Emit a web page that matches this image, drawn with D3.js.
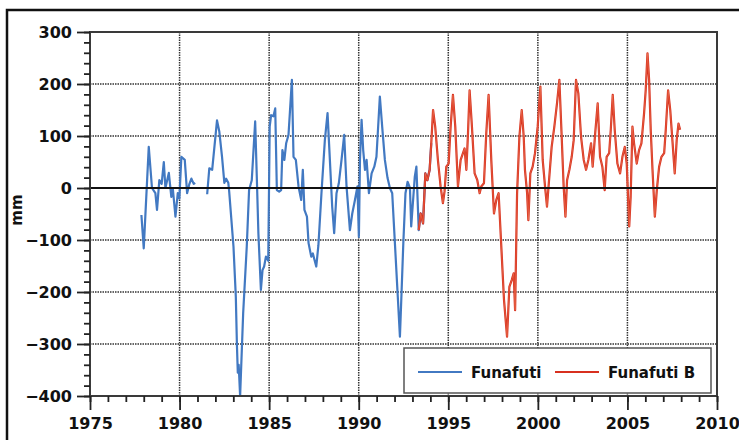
<!DOCTYPE html>
<html><head><meta charset="utf-8">
<script src="https://cdn.jsdelivr.net/npm/d3@7/dist/d3.min.js"></script>
<style>body{margin:0;background:#fff}svg{display:block}text{font-family:"DejaVu Sans",sans-serif;font-weight:bold}</style>
</head><body><svg id="c" width="739" height="440"></svg>
<script>
// Funafuti (blue) — null marks a data gap
const blueYears = [1977.87,1978.00,1978.28,1978.46,1978.65,1978.74,1978.87,1979.00,1979.12,1979.21,1979.40,1979.54,1979.62,1979.77,1979.90,1979.99,1980.10,1980.29,1980.42,1980.55,1980.66,1980.79,1980.87,
 1981.20,
 1981.54,1981.66,1981.82,1982.09,1982.22,1982.37,1982.50,1982.60,1982.72,1982.77,1983.01,1983.14,1983.20,1983.25,1983.30,1983.38,1983.55,1983.75,1983.88,1984.03,1984.22,1984.31,1984.40,1984.54,1984.63,1984.72,1984.82,1984.95,1985.03,1985.11,1985.24,1985.34,1985.43,1985.56,1985.67,1985.74,1985.85,1985.95,1986.08,1986.27,1986.36,1986.49,1986.64,1986.79,1986.88,1986.97,1987.11,1987.20,1987.35,1987.44,1987.53,1987.63,1987.75,1987.92,1988.11,1988.26,1988.39,1988.52,1988.63,1988.76,1988.89,1989.04,1989.19,1989.32,1989.51,1989.64,1989.79,1989.93,1990.01,1990.07,1990.16,1990.25,1990.35,1990.44,1990.57,1990.72,1990.87,1990.99,1991.18,1991.31,1991.46,1991.61,1991.74,1991.87,1992.02,1992.17,1992.30,1992.39,1992.49,1992.61,1992.73,1992.86,1992.93,1993.13,1993.22,1993.35,1993.46,1993.59,1993.72,1993.83,1993.96,1994.05];
const blueValues = [-52,-116,79,0,-10,-42,15,8,50,0,29,-17,0,-55,-10,-20,60,54,-10,8,18,8,10,
 null,
 -12,38,35,130,108,60,10,18,10,-7,-113,-209,-300,-355,-340,-400,-241,-113,-4,15,128,22,-87,-196,-158,-151,-132,-140,118,140,138,153,-4,-7,-4,73,54,86,102,208,60,54,3,-23,35,-42,-55,-106,-132,-126,-138,-151,-110,-10,92,144,54,-36,-87,-10,9,54,102,3,-81,-49,-23,3,-94,54,131,73,35,54,-10,28,41,60,176,118,54,19,0,-10,-106,-202,-286,-202,-106,-10,12,0,-74,22,41,-81,-49,-68,28,15,35,86];

// Funafuti B (red)
const redYears = [1993.35,1993.46,1993.59,1993.72,1993.83,1993.96,1994.05,1994.15,1994.27,1994.42,1994.57,1994.70,1994.79,1994.89,1995.02,1995.13,1995.26,1995.39,1995.54,1995.69,1995.82,1995.91,1996.01,1996.10,1996.19,1996.32,1996.47,1996.62,1996.75,1996.84,1996.99,1997.12,1997.25,1997.40,1997.55,1997.68,1997.81,1997.96,1998.11,1998.28,1998.41,1998.54,1998.65,1998.73,1998.84,1998.97,1999.10,1999.21,1999.28,1999.40,1999.47,1999.58,1999.71,1999.84,1999.99,2000.14,2000.27,2000.40,2000.51,2000.64,2000.77,2000.92,2001.07,2001.20,2001.33,2001.44,2001.54,2001.63,2001.76,2001.89,2002.00,2002.13,2002.26,2002.41,2002.56,2002.69,2002.82,2002.97,2003.06,2003.20,2003.34,2003.47,2003.60,2003.73,2003.84,2003.98,2004.07,2004.18,2004.29,2004.44,2004.59,2004.72,2004.85,2004.96,2005.10,2005.18,2005.28,2005.37,2005.52,2005.65,2005.78,2005.93,2006.02,2006.12,2006.21,2006.30,2006.40,2006.53,2006.64,2006.77,2006.90,2007.05,2007.14,2007.27,2007.39,2007.51,2007.64,2007.75,2007.85,2007.94];
const redValues = [-81,-49,-68,28,15,35,86,150,118,54,3,-29,-7,41,47,118,179,118,3,54,67,76,35,105,188,118,28,15,-10,3,9,105,179,54,-49,-23,-10,-113,-215,-286,-190,-177,-164,-235,-10,99,150,99,35,-10,-62,28,41,67,118,195,54,3,-36,22,79,118,163,208,99,3,-55,15,35,60,92,208,182,99,54,35,54,86,41,105,163,60,41,-4,60,67,112,179,112,47,28,60,79,47,-74,-17,118,86,47,73,86,144,188,259,208,112,35,-55,-4,41,60,67,112,188,150,92,28,92,124,112];

const xTicks = [1975,1980,1985,1990,1995,2000,2005,2010];
const yTicks = [300,200,100,0,-100,-200,-300,-400];
const seriesNames = ["Funafuti","Funafuti B"];
const seriesColors = ["#4279c2","#d8301f"];

const svg = d3.select("#c");
const L=90,R=717,T=32,B=396;
const x = d3.scaleLinear().domain([1975,2010]).range([L,R]);
const y = d3.scaleLinear().domain([-400,300]).range([B,T]);

// outer frame
svg.append("rect").attr("x",7).attr("y",10).attr("width",760).attr("height",480)
  .attr("fill","none").attr("stroke","#111").attr("stroke-width",2.5);

// grid
const g = svg.append("g");
g.selectAll(".vg").data(xTicks.slice(1,-1)).join("line")
  .attr("x1",d=>x(d)).attr("x2",d=>x(d)).attr("y1",T).attr("y2",B)
  .attr("stroke","#333").attr("stroke-width",1.5).attr("stroke-dasharray","1.5,1");
g.selectAll(".hg").data(yTicks.filter(d=>d!==0&&d!==300&&d!==-400)).join("line")
  .attr("x1",L).attr("x2",R).attr("y1",d=>y(d)).attr("y2",d=>y(d))
  .attr("stroke","#333").attr("stroke-width",1.5).attr("stroke-dasharray","1.5,1");

// clip
svg.append("clipPath").attr("id","pc").append("rect").attr("x",L).attr("y",T).attr("width",R-L).attr("height",B-T);

const line = d3.line().defined(d=>d[1]!==null).x(d=>x(d[0])).y(d=>y(d[1]));
const blue = blueYears.map((v,i)=>[v,blueValues[i]]);
const red = redYears.map((v,i)=>[v,redValues[i]]);
const lg = svg.append("g").attr("clip-path","url(#pc)");
lg.append("path").datum(blue).attr("d",line).attr("fill","none").attr("stroke",seriesColors[0]).attr("stroke-width",2.2).attr("stroke-linejoin","round");
lg.append("path").datum(red).attr("d",line).attr("fill","none").attr("stroke",seriesColors[1]).attr("stroke-width",2.2).attr("stroke-linejoin","round");
lg.append("path").datum(red).attr("d",line).attr("fill","none").attr("stroke","#f08a60").attr("stroke-width",0.8).attr("stroke-opacity",0.6);

// zero line
svg.append("line").attr("x1",L).attr("x2",R).attr("y1",y(0)).attr("y2",y(0)).attr("stroke","#111").attr("stroke-width",2.2);

// plot border
svg.append("rect").attr("x",L).attr("y",T).attr("width",R-L).attr("height",B-T)
  .attr("fill","none").attr("stroke","#3a3a3a").attr("stroke-width",2);

// y axis
const ya = d3.axisLeft(y).tickValues(yTicks).tickSize(13).tickPadding(5);
svg.append("g").attr("transform",`translate(${L},0)`).call(ya);
const ym = d3.axisLeft(y).tickValues(d3.range(-400,301,20)).tickSize(6).tickFormat("");
svg.append("g").attr("transform",`translate(${L},0)`).call(ym);
// x axis
const xa = d3.axisBottom(x).tickValues(xTicks).tickSize(14).tickPadding(8).tickFormat(d3.format("d"));
svg.append("g").attr("transform",`translate(0,${B})`).call(xa);
const xm = d3.axisBottom(x).tickValues(d3.range(1975,2011,1)).tickSize(6).tickFormat("");
svg.append("g").attr("transform",`translate(0,${B})`).call(xm);
svg.selectAll(".domain").remove();
svg.selectAll(".tick line").attr("stroke","#222").attr("stroke-width",1.8);
svg.selectAll(".tick text").attr("font-size",16).attr("fill","#111")
  .style("font-family","'DejaVu Sans',sans-serif").style("font-weight","bold");

// y label
svg.append("text").attr("transform","translate(22,210) rotate(-90)").attr("text-anchor","middle")
  .attr("font-size",15).attr("fill","#111").text("mm");

// legend
const leg = svg.append("g");
leg.append("rect").attr("x",404).attr("y",348).attr("width",307).attr("height",45)
  .attr("fill","#fff").attr("stroke","#555").attr("stroke-width",1.5);
const lx = [418,555];
seriesNames.forEach((n,i)=>{
  leg.append("line").attr("x1",lx[i]).attr("x2",lx[i]+44).attr("y1",372).attr("y2",372)
    .attr("stroke",seriesColors[i]).attr("stroke-width",2);
  leg.append("text").attr("x",lx[i]+53).attr("y",378).attr("font-size",15).attr("fill","#111").text(n);
});
</script></body></html>
